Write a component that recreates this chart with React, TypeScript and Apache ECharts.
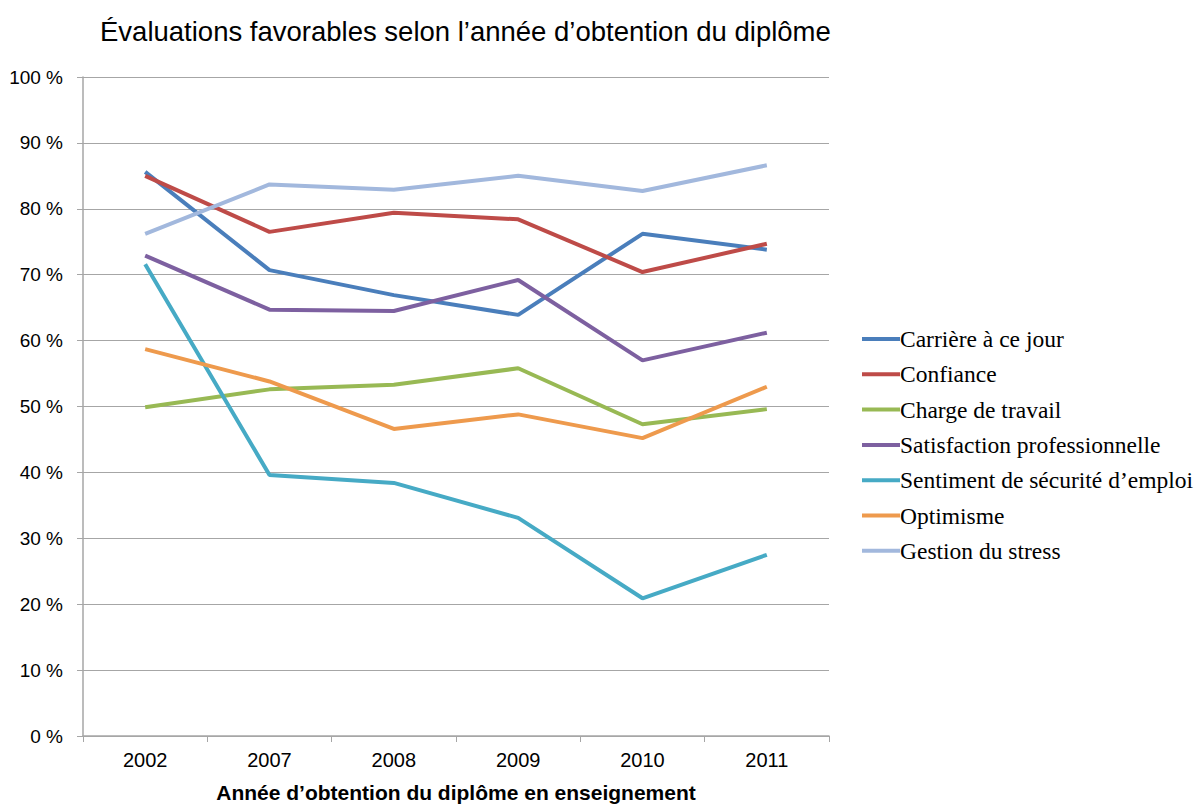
import React, { useEffect, useRef } from "react";
import * as echarts from "echarts";

const years = ["2002", "2007", "2008", "2009", "2010", "2011"];
const carriere = [85.6, 70.7, 66.9, 63.9, 76.2, 73.8];
const confiance = [85.0, 76.5, 79.4, 78.4, 70.4, 74.7];
const charge = [49.9, 52.6, 53.3, 55.8, 47.3, 49.6];
const satisfaction = [72.9, 64.7, 64.5, 69.2, 57.0, 61.2];
const securite = [71.6, 39.6, 38.4, 33.1, 20.9, 27.5];
const optimisme = [58.7, 53.8, 46.6, 48.8, 45.2, 53.0];
const stress = [76.2, 83.7, 82.9, 85.0, 82.7, 86.6];
const yTicks = [0, 10, 20, 30, 40, 50, 60, 70, 80, 90, 100];

const seriesDefs = [
  { name: "Carrière à ce jour", data: carriere, color: "#4a7ebb" },
  { name: "Confiance", data: confiance, color: "#be4b48" },
  { name: "Charge de travail", data: charge, color: "#98b954" },
  { name: "Satisfaction professionnelle", data: satisfaction, color: "#7d60a0" },
  { name: "Sentiment de sécurité d’emploi", data: securite, color: "#46aac5" },
  { name: "Optimisme", data: optimisme, color: "#ee9a4d" },
  { name: "Gestion du stress", data: stress, color: "#a2b8dd" },
];

export default function App() {
  const ref = useRef<HTMLDivElement>(null);
  useEffect(() => {
    const chart = echarts.init(ref.current!, null, { renderer: "svg" });
    chart.setOption({
      animation: false,
      backgroundColor: "#ffffff",
      title: {
        text: "Évaluations favorables selon l’année d’obtention du diplôme",
        left: 95,
        top: 12,
        textStyle: {
          fontFamily: "Liberation Sans, Arial, sans-serif",
          fontSize: 27.5,
          fontWeight: "normal",
          color: "#000",
        },
      },
      legend: {
        orient: "vertical",
        left: 857,
        top: 322,
        itemWidth: 38,
        itemHeight: 4,
        itemGap: 11.3,
        icon: "rect",
        data: seriesDefs.map((s) => s.name),
        textStyle: {
          fontFamily: "Liberation Serif, Times New Roman, serif",
          fontSize: 23.5,
          color: "#000",
          padding: [0, 0, 0, -5],
        },
      },
      grid: {
        left: 83,
        right: 369,
        top: 77,
        bottom: 68,
        containLabel: false,
        outerBoundsMode: "none",
      },
      xAxis: {
        type: "category",
        data: years,
        boundaryGap: true,
        name: "Année d’obtention du diplôme en enseignement",
        nameLocation: "middle",
        nameGap: 46,
        nameTextStyle: {
          fontFamily: "Liberation Sans, Arial, sans-serif",
          fontSize: 21,
          fontWeight: "bold",
          color: "#000",
        },
        axisLine: { lineStyle: { color: "#a6a6a6", width: 1.5 } },
        axisTick: { show: true, length: 6, lineStyle: { color: "#a6a6a6" } },
        axisLabel: {
          margin: 14,
          fontFamily: "Liberation Sans, Arial, sans-serif",
          fontSize: 20,
          color: "#000",
        },
      },
      yAxis: {
        type: "value",
        min: 0,
        max: 100,
        interval: 10,
        axisLine: { show: true, lineStyle: { color: "#a6a6a6", width: 1.5 } },
        axisTick: { show: true, length: 6, lineStyle: { color: "#a6a6a6" } },
        axisLabel: {
          margin: 20,
          fontFamily: "Liberation Sans, Arial, sans-serif",
          fontSize: 19,
          color: "#000",
          formatter: (v: number) => (yTicks.includes(v) ? `${v} %` : ""),
        },
        splitLine: { show: true, lineStyle: { color: "#a6a6a6", width: 1.2 } },
      },
      series: seriesDefs.map((s) => ({
        name: s.name,
        type: "line",
        data: s.data,
        showSymbol: false,
        symbol: "none",
        lineStyle: { color: s.color, width: 4 },
        itemStyle: { color: s.color },
      })),
    });
    return () => chart.dispose();
  }, []);
  return (
    <div
      ref={ref}
      style={{ position: "absolute", left: 0, top: 0, width: 1198, height: 804 }}
    />
  );
}
